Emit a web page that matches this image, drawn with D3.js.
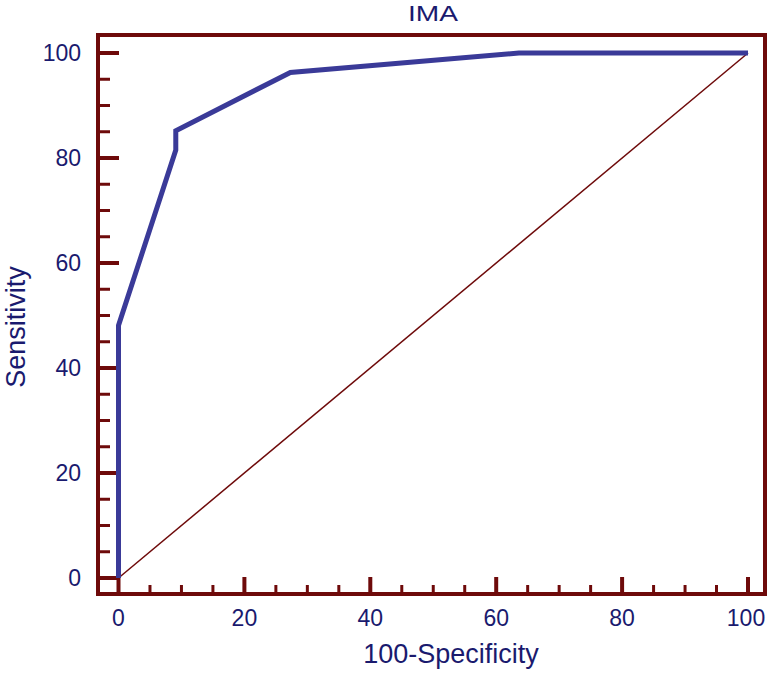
<!DOCTYPE html>
<html>
<head>
<meta charset="utf-8">
<script src="https://cdn.jsdelivr.net/npm/d3@7"></script>
<style>
  body { margin: 0; background: #fff; }
  svg { display: block; font-family: "Liberation Sans", Arial, sans-serif; }
</style>
</head>
<body>
<div id="chart"></div>
<script>
const chartTitle = "IMA";
const xLabel = "100-Specificity";
const yLabel = "Sensitivity";

// ROC points: 100-specificity, sensitivity
const fpr = [0, 0, 9.1, 9.1, 27.3, 63.6, 100];
const tpr = [0, 48.1, 81.5, 85.2, 96.3, 100, 100];

const majorTicks = [0, 20, 40, 60, 80, 100];
const minorTicks = d3.range(0, 101, 5).filter(v => v % 20 !== 0);

const w = 770, h = 673;
const frameColor = "#6e0a0a",
    textColor = "#1a1a6e",
    curveColor = "#3a3a98";

const svg = d3.select("#chart").append("svg")
    .attr("width", w)
    .attr("height", h);

const xScale = d3.scaleLinear().domain([0, 100]).range([118.5, 748]);
const yScale = d3.scaleLinear().domain([0, 100]).range([578, 53]);

const frame = { left: 98, right: 765, top: 35, bottom: 594 };

// y ticks (pointing inward from the left frame)
const yAxis = svg.append("g").attr("id", "y-axis");
yAxis.selectAll(".major")
    .data(majorTicks)
    .enter().append("line")
    .attr("x1", frame.left).attr("x2", frame.left + 21)
    .attr("y1", d => yScale(d)).attr("y2", d => yScale(d))
    .style("stroke", frameColor).style("stroke-width", 4);
yAxis.selectAll(".minor")
    .data(minorTicks)
    .enter().append("line")
    .attr("x1", frame.left).attr("x2", frame.left + 12)
    .attr("y1", d => yScale(d)).attr("y2", d => yScale(d))
    .style("stroke", frameColor).style("stroke-width", 3);
yAxis.selectAll("text")
    .data(majorTicks)
    .enter().append("text")
    .attr("x", 81)
    .attr("y", d => yScale(d))
    .attr("dy", "0.36em")
    .style("text-anchor", "end")
    .style("font-size", "23px")
    .style("fill", textColor)
    .text(d => d);

// x ticks (pointing up from the bottom frame)
const xAxis = svg.append("g").attr("id", "x-axis");
xAxis.selectAll(".major")
    .data(majorTicks)
    .enter().append("line")
    .attr("x1", d => xScale(d)).attr("x2", d => xScale(d))
    .attr("y1", frame.bottom).attr("y2", frame.bottom - 17)
    .style("stroke", frameColor).style("stroke-width", 4);
xAxis.selectAll(".minor")
    .data(minorTicks)
    .enter().append("line")
    .attr("x1", d => xScale(d)).attr("x2", d => xScale(d))
    .attr("y1", frame.bottom).attr("y2", frame.bottom - 9)
    .style("stroke", frameColor).style("stroke-width", 3);
xAxis.selectAll("text")
    .data(majorTicks)
    .enter().append("text")
    .attr("x", d => xScale(d))
    .attr("y", 626)
    .attr("dx", d => d === 100 ? -2 : 0)
    .style("text-anchor", "middle")
    .style("font-size", "23px")
    .style("fill", textColor)
    .text(d => d);

// frame
svg.append("rect")
    .attr("x", frame.left)
    .attr("y", frame.top)
    .attr("width", frame.right - frame.left)
    .attr("height", frame.bottom - frame.top)
    .style("fill", "none")
    .style("stroke", frameColor)
    .style("stroke-width", 4);

// reference diagonal
svg.append("line")
    .attr("x1", xScale(0)).attr("y1", yScale(0))
    .attr("x2", xScale(100)).attr("y2", yScale(100))
    .style("stroke", frameColor)
    .style("stroke-width", 1.5);

// ROC curve
const points = fpr.map((x, i) => [x, tpr[i]]);
svg.append("path")
    .datum(points)
    .attr("d", d3.line().x(d => xScale(d[0])).y(d => yScale(d[1])))
    .style("fill", "none")
    .style("stroke", curveColor)
    .style("stroke-width", 5)
    .style("stroke-linejoin", "miter");

// titles
svg.append("text")
    .attr("x", 433).attr("y", 21)
    .attr("textLength", 50)
    .attr("lengthAdjust", "spacingAndGlyphs")
    .style("text-anchor", "middle")
    .style("font-size", "22px")
    .style("fill", textColor)
    .text(chartTitle);

svg.append("text")
    .attr("x", 451).attr("y", 663)
    .style("text-anchor", "middle")
    .style("font-size", "27px")
    .style("fill", textColor)
    .text(xLabel);

svg.append("text")
    .attr("transform", "translate(25,327) rotate(-90)")
    .style("text-anchor", "middle")
    .style("font-size", "27px")
    .style("fill", textColor)
    .text(yLabel);
</script>
</body>
</html>
